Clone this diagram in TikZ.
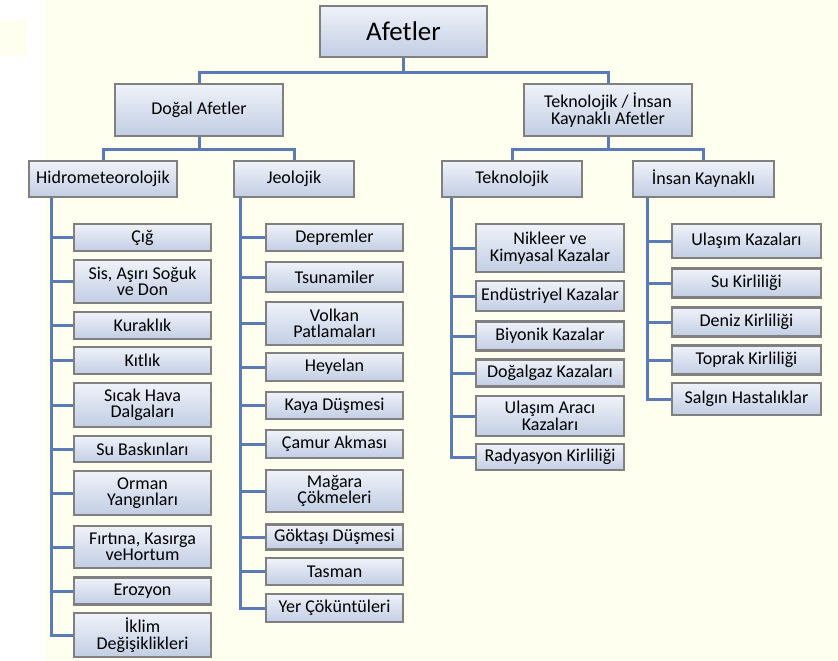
\documentclass[tikz,border=0pt]{standalone}
\usepackage{fontspec}
\setmainfont{Carlito}
\usepackage{tikz}
\usetikzlibrary{backgrounds}
\definecolor{cream}{HTML}{FFFFF0}
\definecolor{boxgray}{HTML}{808080}
\definecolor{boxtop}{HTML}{EFF2F9}
\definecolor{boxbot}{HTML}{C2CEE4}
\definecolor{linkblue}{HTML}{5A7BB5}
\tikzstyle{box}=[draw=boxgray, line width=2.5pt, top color=boxtop, bottom color=boxbot, inner sep=0pt, align=center, font=\fontsize{18}{16.5}\selectfont]
\tikzstyle{hbox}=[box, minimum width=137pt]
\tikzstyle{jbox}=[box, minimum width=137pt]
\tikzstyle{tbox}=[box, minimum width=148pt]
\tikzstyle{ibox}=[box, minimum width=149pt]
\tikzstyle{link}=[draw=linkblue, line width=3pt]

\begin{document}
\begin{tikzpicture}[x=1pt, y=-1pt]
        \useasboundingbox (0,0) rectangle (838,661);

        \node[box, minimum width=167pt, minimum height=51pt, font=\fontsize{27}{27}\selectfont] (root) at (403.5, 31.5) {Afetler};
        \node[box, minimum width=168pt, minimum height=52pt] (dogal) at (199, 110) {Doğal Afetler};
        \node[box, minimum width=168pt, minimum height=52pt] (insan) at (608, 110) {Teknolojik / İnsan\\Kaynaklı Afetler};

        \node[box, minimum width=148pt, minimum height=36pt] (hidro) at (103, 179) {Hidrometeorolojik};
        \node[box, minimum width=120pt, minimum height=36pt] (jeo) at (294, 179) {Jeolojik};
        \node[box, minimum width=140pt, minimum height=36pt] (tekno) at (512, 179) {Teknolojik};
        \node[box, minimum width=141pt, minimum height=36pt] (ikay) at (703.5, 179) {İnsan Kaynaklı};

        \node[hbox, minimum height=27pt] (h1) at (142.5, 237.5) {Çığ};
        \node[hbox, minimum height=43pt] (h2) at (142.5, 281.5) {Sis, Aşırı Soğuk\\ve Don};
        \node[hbox, minimum height=27pt] (h3) at (142.5, 325.5) {Kuraklık};
        \node[hbox, minimum height=27pt] (h4) at (142.5, 360.5) {Kıtlık};
        \node[hbox, minimum height=44pt] (h5) at (142.5, 405) {Sıcak Hava\\Dalgaları};
        \node[hbox, minimum height=26pt] (h6) at (142.5, 449) {Su Baskınları};
        \node[hbox, minimum height=44pt] (h7) at (142.5, 493) {Orman\\Yangınları};
        \node[hbox, minimum height=42pt] (h8) at (142.5, 547) {Fırtına, Kasırga\\veHortum};
        \node[hbox, minimum height=27pt] (h9) at (142.5, 591) {Erozyon};
        \node[hbox, minimum height=44pt] (h10) at (142.5, 635) {İklim\\Değişiklikleri};

        \node[jbox, minimum height=27pt] (j1) at (334.5, 237.5) {Depremler};
        \node[jbox, minimum height=30pt] (j2) at (334.5, 277) {Tsunamiler};
        \node[jbox, minimum height=43pt] (j3) at (334.5, 323.5) {Volkan\\Patlamaları};
        \node[jbox, minimum height=28pt] (j4) at (334.5, 367) {Heyelan};
        \node[jbox, minimum height=27pt] (j5) at (334.5, 405.5) {Kaya Düşmesi};
        \node[jbox, minimum height=28pt] (j6) at (334.5, 444) {Çamur Akması};
        \node[jbox, minimum height=42pt] (j7) at (334.5, 491) {Mağara\\Çökmeleri};
        \node[jbox, minimum height=25pt] (j8) at (334.5, 537) {Göktaşı Düşmesi};
        \node[jbox, minimum height=27pt] (j9) at (334.5, 571.5) {Tasman};
        \node[jbox, minimum height=28pt] (j10) at (334.5, 608) {Yer Çöküntüleri};

        \node[tbox, minimum height=48pt] (t1) at (550, 248) {Nikleer ve\\Kimyasal Kazalar};
        \node[tbox, minimum height=30pt] (t2) at (550, 296) {Endüstriyel Kazalar};
        \node[tbox, minimum height=29pt] (t3) at (550, 336) {Biyonik Kazalar};
        \node[tbox, minimum height=27pt] (t4) at (550, 373) {Doğalgaz Kazaları};
        \node[tbox, minimum height=40pt] (t5) at (550, 416) {Ulaşım Aracı\\Kazaları};
        \node[tbox, minimum height=26pt] (t6) at (550, 457) {Radyasyon Kirliliği};

        \node[ibox, minimum height=34pt] (i1) at (746.5, 241) {Ulaşım Kazaları};
        \node[ibox, minimum height=29pt] (i2) at (746.5, 283) {Su Kirliliği};
        \node[ibox, minimum height=29pt] (i3) at (746.5, 322) {Deniz Kirliliği};
        \node[ibox, minimum height=29pt] (i4) at (746.5, 360) {Toprak Kirliliği};
        \node[ibox, minimum height=32pt] (i5) at (746.5, 399) {Salgın Hastalıklar};

        \begin{pgfonlayer}{background}
        \fill[white] (0,0) rectangle (838,661);
        \fill[cream] (45,0) rectangle (838,661);
        \fill[cream] (0,20) rectangle (27,56);

        \draw[link] (root.south) -- ++(0,14) -| (dogal.north);
        \draw[link] (root.south) -- ++(0,14) -| (insan.north);
        \draw[link] (dogal.south) -- ++(0,12) -| (hidro.north);
        \draw[link] (dogal.south) -- ++(0,12) -| (jeo.north);
        \draw[link] (insan.south) -- ++(0,12) -| (tekno.north);
        \draw[link] (insan.south) -- ++(0,12) -| (ikay.north);

        \coordinate (hs) at ([xshift=24pt]hidro.south west);
        \coordinate (js) at ([xshift=8pt]jeo.south west);
        \coordinate (ts) at ([xshift=11pt]tekno.south west);
        \coordinate (is) at ([xshift=16pt]ikay.south west);
        \draw[link] (hs) |- (h10.west);
        \draw[link] (js) |- (j10.west);
        \draw[link] (ts) |- (t6.west);
        \draw[link] (is) |- (i5.west);
        \foreach \n in {h1,h2,h3,h4,h5,h6,h7,h8,h9}
            \draw[link] (\n.west) -- (\n.west -| hs);
        \foreach \n in {j1,j2,j3,j4,j5,j6,j7,j8,j9}
            \draw[link] (\n.west) -- (\n.west -| js);
        \foreach \n in {t1,t2,t3,t4,t5}
            \draw[link] (\n.west) -- (\n.west -| ts);
        \foreach \n in {i1,i2,i3,i4}
            \draw[link] (\n.west) -- (\n.west -| is);
        \end{pgfonlayer}
    \end{tikzpicture}
\end{document}
